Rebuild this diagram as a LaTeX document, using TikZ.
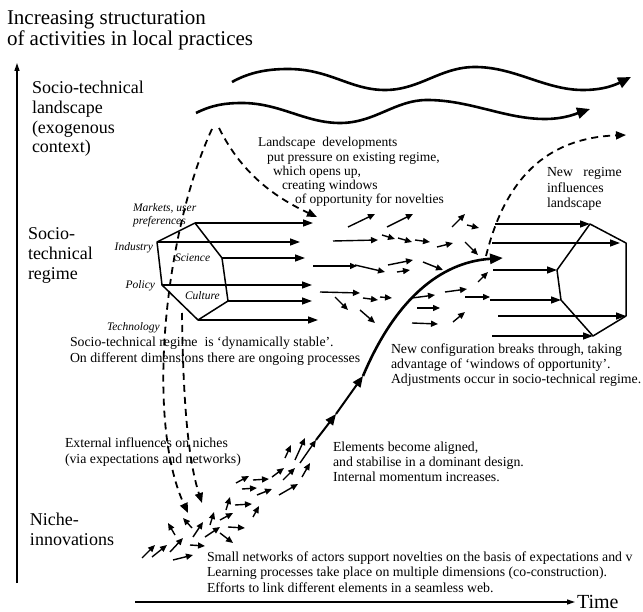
\documentclass[tikz,border=0pt]{standalone}
\usepackage{fontspec}
\setmainfont{Liberation Serif}
\usetikzlibrary{arrows.meta}
\begin{document}
\begin{tikzpicture}[x=1pt,y=-1pt,
  every node/.style={inner sep=0pt, outer sep=0pt},
  bigtxt/.style={font=\fontsize{21}{21}\selectfont, align=left, anchor=base west},
  lvltxt/.style={font=\fontsize{18}{19.7}\selectfont, align=left, anchor=base west},
  smalltxt/.style={font=\fontsize{13.8}{15.5}\selectfont, align=left, anchor=base west},
  dimtxt/.style={font=\fontsize{11.5}{12.5}\selectfont\itshape, align=left, anchor=base west},
  axisline/.style={line width=1.3pt, -{Triangle[length=8pt,width=5pt]}},
  wave/.style={line width=2.6pt, -{Triangle[length=13pt,width=11pt]}},
  dasharrow/.style={line width=1.8pt, dash pattern=on 7pt off 5pt, -{Triangle[length=10pt,width=8pt]}},
  regarrow/.style={line width=1.4pt, -{Triangle[length=10pt,width=7pt]}},
  smallarrow/.style={line width=1.4pt, -{Triangle[length=7pt,width=6pt]}},
  chainarrow/.style={line width=2pt, -{Triangle[length=11pt,width=9pt]}},
  hexline/.style={line width=1.5pt, line join=round},
  growth/.style={line width=2.6pt, -{Triangle[length=13pt,width=10pt]}},
]
\useasboundingbox (0,0) rectangle (643,612);

% axes
\coordinate (yaxB) at (17,583);
\coordinate (yaxT) at (17,63);
\coordinate (xaxL) at (135,602);
\coordinate (xaxR) at (575,602);
\draw[axisline] (yaxB) -- (yaxT);
\draw[axisline] (xaxL) -- (xaxR);
\node[font=\fontsize{20}{20}\selectfont, anchor=base west] (time) at (577,608) {Time};

% titles and level labels (anchor = baseline of last line)
\node[bigtxt] (title) at (7,46) {Increasing structuration\\of activities in local practices};
\node[lvltxt] (lland) at (32,153) {Socio-technical\\landscape\\(exogenous\\context)};
\node[lvltxt, font=\fontsize{18}{20}\selectfont] (lreg) at (28,280) {Socio-\\technical\\regime};
\node[lvltxt, font=\fontsize{18}{20}\selectfont] (lniche) at (30,545) {Niche-\\innovations};

% landscape waves
\draw[wave] (232,82) .. controls (250,72) and (268,69) .. (288,69)
  .. controls (330,69) and (350,90) .. (385,90)
  .. controls (420,90) and (440,67) .. (475,67)
  .. controls (515,67) and (545,90) .. (583,90)
  .. controls (605,90) and (617,84) .. (631,77);
\draw[wave] (196,113) .. controls (212,105) and (225,103) .. (242,103)
  .. controls (280,103) and (305,123) .. (340,123)
  .. controls (375,123) and (395,100) .. (427,100)
  .. controls (470,100) and (505,119) .. (545,119)
  .. controls (565,119) and (578,113) .. (590,109);

% left regime hexagon
\coordinate (LT) at (195,223);
\coordinate (LTR) at (222,258);
\coordinate (LBR) at (228,301);
\coordinate (LB) at (198,320);
\coordinate (LBL) at (162,285);
\coordinate (LL) at (157,242);
\draw[hexline] (LT) -- (LTR) -- (LBR) -- (LB) -- (LBL) -- (LL) -- cycle;
\coordinate (LTh) at (313,223);
\coordinate (LTRh) at (305,258);
\coordinate (LBRh) at (312,301);
\coordinate (LBh) at (318,320);
\coordinate (LBLh) at (312,285);
\coordinate (LLh) at (300,242);
\draw[regarrow] (LT) -- (LTh);
\draw[regarrow] (LL) -- (LLh);
\draw[regarrow] (LTR) -- (LTRh);
\draw[regarrow] (LBL) -- (LBLh);
\draw[regarrow] (LBR) -- (LBRh);
\draw[regarrow] (LB) -- (LBh);

\node[dimtxt] (dmark) at (133,224.5) {Markets, user\\preferences};
\node[dimtxt, anchor=base east] (dind) at (153,251) {Industry};
\node[dimtxt] (dsci) at (175,262) {Science};
\node[dimtxt, anchor=base east] (dpol) at (155,289) {Policy};
\node[dimtxt] (dcul) at (185,300) {Culture};
\node[dimtxt] (dtec) at (107,331) {Technology};

% right regime hexagon
\coordinate (RT) at (590,224);
\coordinate (RTR) at (626,243);
\coordinate (RBR) at (626,316);
\coordinate (RB) at (593,336);
\coordinate (RBL) at (561,300);
\coordinate (RL) at (557,270);
\draw[hexline] (RT) -- (RTR) -- (RBR) -- (RB) -- (RBL) -- (RL) -- cycle;
\coordinate (RTt) at (495,224);
\coordinate (RTRt) at (492,243);
\coordinate (RTRh) at (620,243);
\coordinate (RLt) at (493,270);
\coordinate (RBLt) at (490,300);
\coordinate (RBRt) at (498,316);
\coordinate (RBt) at (492,336);
\draw[regarrow] (RTt) -- (RT);
\draw[regarrow] (RTRt) -- (RTRh);
\draw[regarrow] (RLt) -- (RL);
\draw[regarrow] (RBLt) -- (RBL);
\draw[regarrow] (RBRt) -- (RBR);
\draw[regarrow] (RBt) -- (RB);

% dashed influences
\coordinate (tentL) at (212,129);
\coordinate (tentR) at (219,128);
\coordinate (pressTip) at (317,217);
\coordinate (nicheTipA) at (188,513);
\coordinate (regStart) at (182,313);
\coordinate (nicheTipB) at (202,503);
\coordinate (newStart) at (486,256);
\coordinate (landTip) at (626,135);
\draw[dasharrow] (tentR) .. controls (240,170) and (270,195) .. (pressTip);
\draw[dasharrow] (tentL) .. controls (165,230) and (145,420) .. (nicheTipA);
\draw[dasharrow] (regStart) .. controls (183,400) and (188,460) .. (nicheTipB);
\draw[dasharrow] (newStart) .. controls (505,180) and (545,138) .. (landTip);

% windows of opportunity cloud
\foreach \ax/\ay/\bx/\by in {
  348/227/375/214, 387/227/413/214, 452/227/465/214, 467/225/479/228,
  333/241/378/240, 382/235/395/239, 398/238/412/242, 415/240/430/242, 437/247/453/243, 465/242/478/255,
  313/266/357/266, 355/265/385/272, 388/265/413/260, 397/272/410/270, 423/262/443/270,
  478/282/488/272, 320/292/360/293, 335/297/348/310, 363/298/378/300, 380/297/392/298,
  360/310/375/323, 412/298/435/295, 445/292/467/289, 465/297/490/297, 417/308/440/308,
  412/323/438/324, 453/322/465/312}
  \draw[smallarrow] (\ax,\ay) -- (\bx,\by);

% niche cloud
\foreach \ax/\ay/\bx/\by in {
  142/558/155/545, 152/557/167/545, 170/552/183/538, 173/560/193/555, 190/545/205/546,
  175/535/168/523, 192/528/183/518, 193/537/203/522, 205/537/220/527, 210/525/214/512,
  220/533/233/543, 220/520/233/513, 228/527/245/528, 226/510/230/497, 235/505/252/504,
  253/517/259/506, 236/483/249/476, 242/489/257/488, 253/480/269/479, 257/495/272/489,
  272/477/284/468, 279/495/298/484, 283/480/295/468, 285/458/291/445, 295/460/305/438,
  302/477/310/463, 300/463/316/440}
  \draw[smallarrow] (\ax,\ay) -- (\bx,\by);

% growth trajectory
\coordinate (ch0) at (316,440);
\coordinate (ch1) at (336,414);
\coordinate (ch2) at (363,376);
\coordinate (brk) at (503,258);
\draw[chainarrow] (ch0) -- (ch1);
\draw[chainarrow] (ch1) -- (ch2);
\draw[growth] (ch2) .. controls (395,300) and (440,262) .. (brk);

% annotations (anchor = baseline of last line)
\node[smalltxt, font=\fontsize{13.5}{14.3}\selectfont] (tland) at (258,204)
  {Landscape\ \ developments\\\hspace*{9pt}put pressure on existing regime,\\\hspace*{15pt}which opens up,\\\hspace*{24pt}creating windows\\\hspace*{37pt}of opportunity for novelties};
\node[smalltxt] (tnewreg) at (547,208) {New\ \ \ regime\\influences\\landscape};
\node[smalltxt] (tstable) at (70,362.5) {Socio-technical regime\ \ is `dynamically stable'.\\On different dimensions there are ongoing processes};
\node[smalltxt, font=\fontsize{13.8}{15}\selectfont] (tbreak) at (391,384) {New configuration breaks through, taking\\advantage of `windows of opportunity'.\\Adjustments occur in socio-technical regime.};
\node[smalltxt, font=\fontsize{13.8}{15}\selectfont] (talign) at (333,481) {Elements become aligned,\\and stabilise in a dominant design.\\Internal momentum increases.};
\node[smalltxt, font=\fontsize{13.8}{16}\selectfont] (text) at (65,463) {External influences on niches\\(via expectations and networks)};
\node[smalltxt] (tsmall) at (207,592) {Small networks of actors support novelties on the basis of expectations and v\\Learning processes take place on multiple dimensions (co-construction).\\Efforts to link different elements in a seamless web.};
\end{tikzpicture}
\end{document}
